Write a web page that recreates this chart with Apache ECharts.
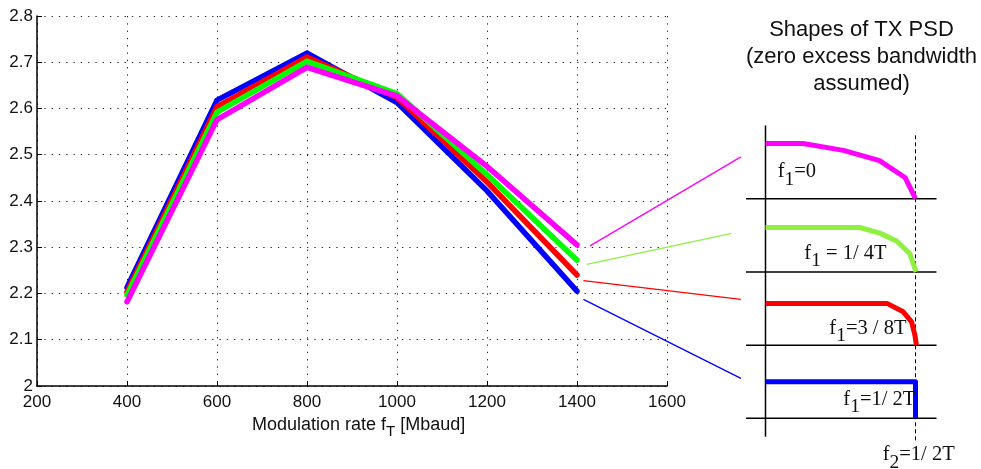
<!DOCTYPE html>
<html><head><meta charset="utf-8">
<script src="https://cdn.jsdelivr.net/npm/echarts@6/dist/echarts.min.js"></script>
<style>html,body{margin:0;padding:0;background:#fff}#c{width:981px;height:469px}</style>
</head><body><div id="c"></div>
<script>
// ---- main chart data ----
const rates = [400, 600, 800, 1000, 1200, 1400];
const blueVals    = [2.213, 2.618, 2.720, 2.613, 2.422, 2.205];
const redVals     = [2.204, 2.604, 2.711, 2.624, 2.441, 2.240];
const greenVals   = [2.197, 2.592, 2.702, 2.632, 2.457, 2.272];
const magentaVals = [2.182, 2.576, 2.689, 2.627, 2.475, 2.305];
const xTicks = [200, 400, 600, 800, 1000, 1200, 1400, 1600];
const xTickLabels = ['200', '400', '600', '800', '1000', '1200', '1400', '1600'];
const yTicks = [2.0, 2.1, 2.2, 2.3, 2.4, 2.5, 2.6, 2.7, 2.8];
const yTickLabels = ['2', '2.1', '2.2', '2.3', '2.4', '2.5', '2.6', '2.7', '2.8'];

// ---- PSD shapes panel (normalised frequency f*T, stacked levels) ----
const psdMagenta = [[0, 3.755], [0.125, 3.755], [0.26, 3.66], [0.38, 3.52], [0.465, 3.29], [0.5, 3.0]];
const psdGreen   = [[0, 2.607], [0.314, 2.607], [0.381, 2.53], [0.437, 2.422], [0.481, 2.25], [0.502, 2.0]];
const psdRed     = [[0, 1.57], [0.405, 1.57], [0.459, 1.455], [0.487, 1.318], [0.498, 1.136], [0.503, 1.0]];
const psdBlue    = [[0, 0.5], [0.5, 0.5], [0.5, 0]];
const psdBaselines = [0, 1, 2, 3];
const psdBaseSpan = [-0.065, 0.57];
const psdAxis = [[0, -0.25], [0, 4.0]];
const psdEdge = [[0.5, -0.3], [0.5, 3.9]];

// ---- connector lines (panel coordinates) ----
const linkMagenta = [[-0.585, 2.355], [-0.082, 3.571]];
const linkGreen   = [[-0.596, 2.104], [-0.113, 2.527]];
const linkRed     = [[-0.607, 1.880], [-0.082, 1.626]];
const linkBlue    = [[-0.607, 1.626], [-0.082, 0.546]];

const cBlue = '#0000ff', cRed = '#ff0000', cGreen = '#00ff00', cMag = '#ff00ff', cLime = '#90f040';
const sans = '"Liberation Sans", Arial, sans-serif';
const serif = '"Liberation Serif", "Times New Roman", serif';

const mainLine = (name, vals, color) => ({
  type: 'line', name, xAxisIndex: 0, yAxisIndex: 0,
  data: rates.map((r, i) => [r, vals[i]]),
  symbol: 'none', z: 3,
  lineStyle: { color, width: 5.5, cap: 'round', join: 'miter' }, itemStyle: { color }
});
const psdLine = (data, color, width, type) => ({
  type: 'line', xAxisIndex: 1, yAxisIndex: 1, data, symbol: 'none', clip: false,
  lineStyle: { color, width, join: 'round', type: type || 'solid' }
});

// text runs with subscripts (measured pieces)
const mctx = document.createElement('canvas').getContext('2d');
function textRun(x, yc, family, parts) {
  const out = []; let cx = x;
  parts.forEach(p => {
    const font = p.size + 'px ' + family;
    mctx.font = font;
    out.push({ type: 'text', x: cx, y: yc + (p.dy || 0), z: 10,
      style: { text: p.t, font, fill: '#111', align: 'left', verticalAlign: 'middle' } });
    cx += mctx.measureText(p.t).width;
  });
  return out;
}
const fLabel = (x, yc, sub, rest) => textRun(x, yc, serif, [
  { t: 'f', size: 20.5 }, { t: sub, size: 19.5, dy: 8 }, { t: rest, size: 20.5 }
]);

const option = {
  animation: false,
  backgroundColor: '#fff',
  grid: [
    { left: 37, right: 314, top: 16, bottom: 83 },
    { left: 579.5, width: 357, top: 125.5, height: 314.8 }
  ],
  xAxis: [{
    type: 'value', gridIndex: 0, min: xTicks[0], max: xTicks[xTicks.length - 1], interval: 200,
    axisLine: { show: true, onZero: false, lineStyle: { color: '#000', width: 1.5 } },
    axisTick: { show: true, inside: true, length: 5, lineStyle: { color: '#000', width: 1 } },
    axisLabel: {
      margin: 8, color: '#111', fontSize: 17, fontFamily: sans,
      formatter: v => { const i = xTicks.indexOf(Math.round(v)); return i >= 0 ? xTickLabels[i] : ''; }
    },
    splitLine: { show: true, lineStyle: { color: '#222', width: 1, type: [1.3, 6] } }
  }, {
    type: 'value', gridIndex: 1, min: -0.62, max: 0.57, show: false
  }],
  yAxis: [{
    type: 'value', gridIndex: 0, min: yTicks[0], max: yTicks[yTicks.length - 1], interval: 0.1,
    axisLine: { show: true, onZero: false, lineStyle: { color: '#000', width: 1.5 } },
    axisTick: { show: true, inside: true, length: 5, lineStyle: { color: '#000', width: 1 } },
    axisLabel: {
      margin: 4, color: '#111', fontSize: 17, fontFamily: sans,
      formatter: v => { const i = yTicks.findIndex(t => Math.abs(t - v) < 1e-6); return i >= 0 ? yTickLabels[i] : ''; }
    },
    splitLine: { show: true, lineStyle: { color: '#222', width: 1, type: [1.3, 6] } }
  }, {
    type: 'value', gridIndex: 1, min: -0.3, max: 4.0, show: false
  }],
  series: [
    mainLine('f1=1/2T', blueVals, cBlue),
    mainLine('f1=3/8T', redVals, cRed),
    mainLine('f1=1/4T', greenVals, cGreen),
    mainLine('f1=0', magentaVals, cMag),
    psdLine(linkMagenta, cMag, 1.3),
    psdLine(linkGreen, cLime, 1.3),
    psdLine(linkRed, cRed, 1.3),
    psdLine(linkBlue, cBlue, 1.3),
    psdLine(psdAxis, '#000', 1.5),
    ...psdBaselines.map(b => psdLine([[psdBaseSpan[0], b], [psdBaseSpan[1], b]], '#000', 1.5)),
    psdLine(psdEdge, '#000', 1, [4, 3]),
    psdLine(psdMagenta, cMag, 5),
    psdLine(psdGreen, cLime, 5),
    psdLine(psdRed, cRed, 5),
    psdLine(psdBlue, cBlue, 5)
  ],
  graphic: [
    {
      type: 'text', x: 861.5, y: 57, z: 10,
      style: {
        text: 'Shapes of TX PSD\n(zero excess bandwidth\nassumed)',
        font: '22px ' + sans, fill: '#111',
        align: 'center', verticalAlign: 'middle', lineHeight: 27
      }
    },
    ...textRun(252, 425, sans, [
      { t: 'Modulation rate f', size: 18 }, { t: 'T', size: 15, dy: 7 }, { t: ' [Mbaud]', size: 18 }
    ]),
    ...fLabel(777.7, 171.7, '1', '=0'),
    ...fLabel(804.3, 253.3, '1', ' = 1/ 4T'),
    ...fLabel(829.3, 328.3, '1', '=3 / 8T'),
    ...fLabel(843.3, 399.3, '1', '=1/ 2T'),
    ...fLabel(882.7, 455, '2', '=1/ 2T')
  ]
};
const chart = echarts.init(document.getElementById('c'));
chart.setOption(option);
</script></body></html>
